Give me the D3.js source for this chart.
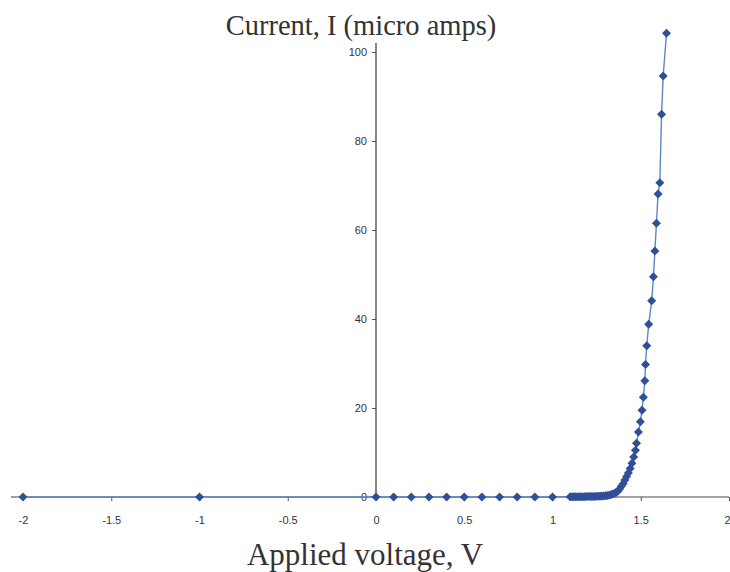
<!DOCTYPE html>
<html><head><meta charset="utf-8">
<script src="https://cdn.jsdelivr.net/npm/d3@7"></script>
<style>
html,body{margin:0;padding:0;background:#fff;}
svg{display:block;}
.tick text{font-family:"Liberation Sans",Arial,sans-serif;font-size:11px;fill:#333;}
</style></head>
<body><svg id="c" width="730" height="572"></svg>
<script>
// Data
const voltage = [-2, -1, 0, 0.1, 0.2, 0.3, 0.4, 0.5, 0.6, 0.7, 0.8, 0.9, 1.0,
  1.10, 1.11, 1.12, 1.13, 1.14, 1.15, 1.16, 1.17, 1.18, 1.19, 1.20, 1.21, 1.22, 1.23, 1.24, 1.25,
  1.26, 1.27, 1.28, 1.29, 1.30, 1.31, 1.32, 1.33, 1.34, 1.35, 1.36, 1.37, 1.38, 1.39, 1.40,
  1.41, 1.42, 1.43, 1.44, 1.45, 1.46, 1.47, 1.476, 1.487, 1.498, 1.507, 1.515, 1.523, 1.527,
  1.534, 1.545, 1.562, 1.572, 1.580, 1.589, 1.598, 1.608, 1.618, 1.627, 1.646];
const current = [0, 0, 0, 0, 0, 0, 0, 0, 0, 0, 0, 0, 0,
  0.05, 0.05, 0.05, 0.06, 0.06, 0.07, 0.07, 0.08, 0.08, 0.09, 0.1, 0.1, 0.12, 0.13, 0.14, 0.15,
  0.17, 0.19, 0.21, 0.24, 0.28, 0.33, 0.4, 0.5, 0.65, 0.8, 1.0, 1.3, 1.8, 2.4, 3.0,
  3.8, 4.6, 5.4, 6.4, 7.6, 9.0, 10.5, 12.1, 14.6, 16.9, 19.5, 22.4, 26.1, 29.8,
  34.0, 38.8, 44.1, 49.5, 55.3, 61.5, 68.1, 70.6, 86.0, 94.6, 104.2];
const xTicks = [-2, -1.5, -1, -0.5, 0, 0.5, 1, 1.5, 2];
const yTicks = [0, 20, 40, 60, 80, 100];
const xTitle = "Applied voltage, V";
const yTitle = "Current, I (micro amps)";

const data = voltage.map((v, i) => ({v, c: current[i]}));
const svg = d3.select("#c");
const x = d3.scaleLinear().domain([-2, 2]).range([23, 729]);
const y = d3.scaleLinear().domain([0, 100]).range([497, 52]);

// x axis line (extends left of -2)
svg.append("line").attr("x1", 11).attr("x2", 729).attr("y1", y(0)).attr("y2", y(0))
  .attr("stroke", "#444").attr("stroke-width", 1.2);
const xa = svg.append("g").attr("transform", `translate(0,${y(0)})`)
  .call(d3.axisBottom(x).tickValues(xTicks).tickSize(4).tickPadding(15)
    .tickFormat(d => String(d)));
xa.select(".domain").remove();
xa.selectAll(".tick line").attr("stroke", "#555");
xa.selectAll(".tick").filter(d => d === 2).select("text").attr("text-anchor", "end").attr("x", 1);

// y axis at x=0
const ya = svg.append("g").attr("transform", `translate(${x(0)},0)`)
  .call(d3.axisLeft(y).tickValues(yTicks).tickSize(4).tickPadding(5));
ya.select(".domain").remove();
ya.selectAll(".tick line").attr("stroke", "#555");
svg.append("line").attr("x1", x(0)).attr("x2", x(0)).attr("y1", 43).attr("y2", y(0))
  .attr("stroke", "#444").attr("stroke-width", 1.3);

// series line
svg.append("path").datum(data)
  .attr("d", d3.line().x(d => x(d.v)).y(d => y(d.c)))
  .attr("fill", "none").attr("stroke", "#5b86c8").attr("stroke-width", 1.4);

// markers
svg.append("g").selectAll("path").data(data).join("path")
  .attr("transform", d => `translate(${x(d.v)},${y(d.c)})`)
  .attr("d", "M0,-4.5L4.5,0L0,4.5L-4.5,0Z")
  .attr("fill", "#2f4f99");

// titles
svg.append("text").attr("x", 361).attr("y", 35).attr("text-anchor", "middle")
  .style("font-family", "'Liberation Serif','Times New Roman',serif").style("font-size", "28.5px")
  .attr("fill", "#333").text(yTitle);
svg.append("text").attr("x", 365).attr("y", 565).attr("text-anchor", "middle")
  .style("font-family", "'Liberation Serif','Times New Roman',serif").style("font-size", "31px")
  .attr("fill", "#333").text(xTitle);
</script></body></html>
